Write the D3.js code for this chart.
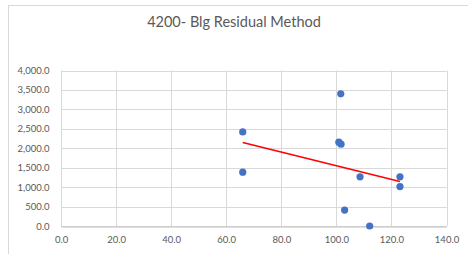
<!DOCTYPE html>
<html><head><meta charset="utf-8">
<script src="https://cdn.jsdelivr.net/npm/d3@7"></script>
<style>html,body{margin:0;padding:0;background:#fff;}svg{display:block;}</style>
</head><body>
<svg id="c" width="468" height="254"></svg>
<script>
const title = "4200- Blg Residual Method";
const xValues = [101.6, 66.0, 66.0, 100.9, 101.7, 108.6, 123.1, 123.1, 103.0, 112.1];
const yValues = [3400, 2420, 1385, 2155, 2105, 1265, 1265, 1015, 410, 0];
const trendX = [66.0, 123.1];
const trendY = [2150, 1145];
const xTicks = [0, 20, 40, 60, 80, 100, 120, 140];
const yTicks = [0, 500, 1000, 1500, 2000, 2500, 3000, 3500, 4000];

const svg = d3.select("#c");
const font = "Lato, 'Open Sans', sans-serif";
const fmt = d3.format(",.1f");

// outer frame
svg.append("rect").attr("x", 8.5).attr("y", 5.5).attr("width", 470).attr("height", 260)
  .attr("fill", "#fff").attr("stroke", "#d9d9d9").attr("stroke-width", 1);

svg.append("text").attr("x", 234).attr("y", 27).attr("text-anchor", "middle")
  .attr("font-family", font).attr("font-size", 14.5).attr("fill", "#595959").text(title);

const x = d3.scaleLinear().domain([0, 140]).range([61, 446.5]);
const y = d3.scaleLinear().domain([0, 4000]).range([226, 70.5]);

// gridlines
svg.append("g").selectAll("line.h").data(yTicks).join("line")
  .attr("x1", x(0)).attr("x2", x(140)).attr("y1", d => Math.round(y(d)) + 0.5).attr("y2", d => Math.round(y(d)) + 0.5)
  .attr("stroke", "#d9d9d9").attr("stroke-width", 1);
svg.append("g").selectAll("line.v").data(xTicks).join("line")
  .attr("y1", y(0)).attr("y2", y(4000)).attr("x1", d => Math.round(x(d)) + 0.5).attr("x2", d => Math.round(x(d)) + 0.5)
  .attr("stroke", "#d9d9d9").attr("stroke-width", 1);

// axes
const xAxis = d3.axisBottom(x).tickValues(xTicks).tickFormat(fmt).tickSize(0).tickPadding(10);
const gx = svg.append("g").attr("transform", `translate(0,${Math.round(y(0)) + 0.5})`).call(xAxis);
gx.select(".domain").attr("stroke", "#bfbfbf");
gx.selectAll("text").attr("font-family", font).attr("font-size", 9.5).attr("fill", "#595959");

const yAxis = d3.axisLeft(y).tickValues(yTicks).tickFormat(fmt).tickSize(0).tickPadding(12);
const gy = svg.append("g").attr("transform", `translate(${Math.round(x(0)) + 0.5},0)`).call(yAxis);
gy.select(".domain").remove();
gy.selectAll("text").attr("font-family", font).attr("font-size", 9.5).attr("fill", "#595959");

// trendline
svg.append("line")
  .attr("x1", x(trendX[0])).attr("y1", y(trendY[0]))
  .attr("x2", x(trendX[1])).attr("y2", y(trendY[1]))
  .attr("stroke", "#ff0000").attr("stroke-width", 1.6);

// points
svg.append("g").selectAll("circle").data(xValues.map((v, i) => [v, yValues[i]])).join("circle")
  .attr("cx", d => x(d[0])).attr("cy", d => y(d[1])).attr("r", 3.6)
  .attr("fill", "#4472c4");
</script>
</body></html>
